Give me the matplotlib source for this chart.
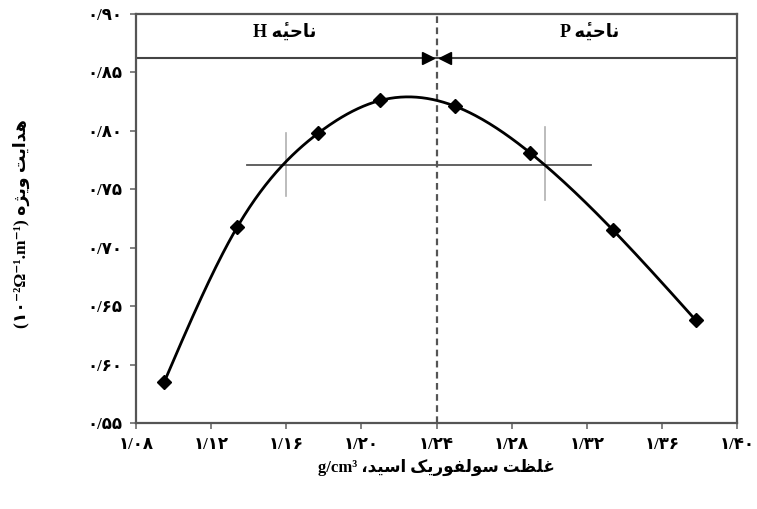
import numpy as np
import matplotlib
matplotlib.use("Agg")
import matplotlib.pyplot as plt

# sulfuric acid density (g/cm3) and specific conductivity
density = [1.095, 1.134, 1.177, 1.210, 1.250, 1.290, 1.334, 1.378]
conductivity = [0.585, 0.718, 0.798, 0.826, 0.821, 0.781, 0.715, 0.638]

x_ticks = [1.08, 1.12, 1.16, 1.20, 1.24, 1.28, 1.32, 1.36, 1.40]
x_tick_labels = ["۱/۰۸", "۱/۱۲", "۱/۱۶", "۱/۲۰", "۱/۲۴", "۱/۲۸", "۱/۳۲", "۱/۳۶", "۱/۴۰"]
y_ticks = [0.55, 0.60, 0.65, 0.70, 0.75, 0.80, 0.85, 0.90]
y_tick_labels = ["۰/۵۵", "۰/۶۰", "۰/۶۵", "۰/۷۰", "۰/۷۵", "۰/۸۰", "۰/۸۵", "۰/۹۰"]

boundary = 1.24
band_y = 0.862
level_y = 0.771
level_x = [1.139, 1.322]
left_mark = [1.16, 0.744, 0.798]
right_mark = [1.298, 0.741, 0.803]

# presentation forms: isolated, final, initial, medial (None = non-joining)
FORMS = {
    "ا": ("\uFE8D", "\uFE8E", None, None),
    "ت": ("\uFE95", "\uFE96", "\uFE97", "\uFE98"),
    "ح": ("\uFEA1", "\uFEA2", "\uFEA3", "\uFEA4"),
    "د": ("\uFEA9", "\uFEAA", None, None),
    "ر": ("\uFEAD", "\uFEAE", None, None),
    "ژ": ("\uFB8A", "\uFB8B", None, None),
    "س": ("\uFEB1", "\uFEB2", "\uFEB3", "\uFEB4"),
    "ظ": ("\uFEC5", "\uFEC6", "\uFEC7", "\uFEC8"),
    "غ": ("\uFECD", "\uFECE", "\uFECF", "\uFED0"),
    "ف": ("\uFED1", "\uFED2", "\uFED3", "\uFED4"),
    "ک": ("\uFB8E", "\uFB8F", "\uFB90", "\uFB91"),
    "ل": ("\uFEDD", "\uFEDE", "\uFEDF", "\uFEE0"),
    "ن": ("\uFEE5", "\uFEE6", "\uFEE7", "\uFEE8"),
    "ه": ("\uFEE9", "\uFEEA", "\uFEEB", "\uFEEC"),
    "و": ("\uFEED", "\uFEEE", None, None),
    "ی": ("\uFBFC", "\uFBFD", "\uFBFE", "\uFBFF"),
}


def joins_next(ch):
    return ch in FORMS and FORMS[ch][2] is not None


def farsi(text):
    """Shape Persian letters and return them in visual (left-to-right) order."""
    out = []
    for i, ch in enumerate(text):
        if ch not in FORMS:
            out.append(ch)
            continue
        prev = text[i - 1] if i > 0 else ""
        nxt = text[i + 1] if i + 1 < len(text) else ""
        to_prev = joins_next(prev)
        to_next = joins_next(ch) and nxt in FORMS
        iso, fin, ini, med = FORMS[ch]
        if to_prev and to_next:
            out.append(med)
        elif to_prev:
            out.append(fin)
        elif to_next:
            out.append(ini)
        else:
            out.append(iso)
    return "".join(reversed(out))


def natural_spline(x, y, xs):
    x = np.asarray(x, float)
    y = np.asarray(y, float)
    n = len(x)
    h = np.diff(x)
    A = np.zeros((n, n))
    b = np.zeros(n)
    A[0, 0] = A[-1, -1] = 1
    for i in range(1, n - 1):
        A[i, i - 1] = h[i - 1]
        A[i, i] = 2 * (h[i - 1] + h[i])
        A[i, i + 1] = h[i]
        b[i] = 3 * ((y[i + 1] - y[i]) / h[i] - (y[i] - y[i - 1]) / h[i - 1])
    c = np.linalg.solve(A, b)
    bb = (y[1:] - y[:-1]) / h - h * (2 * c[:-1] + c[1:]) / 3
    d = (c[1:] - c[:-1]) / (3 * h)
    k = np.clip(np.searchsorted(x, xs) - 1, 0, n - 2)
    t = xs - x[k]
    return y[k] + bb[k] * t + c[k] * t ** 2 + d[k] * t ** 3


FONT = ["Liberation Serif", "DejaVu Sans"]
plt.rcParams["font.family"] = FONT
plt.rcParams["font.weight"] = "bold"

fig = plt.figure(figsize=(7.57, 5.09), dpi=100)
ax = fig.add_axes([0.1797, 0.169, 0.7939, 0.8035])

xs = np.linspace(density[0], density[-1], 300)
ax.plot(xs, natural_spline(density, conductivity, xs), color="black", lw=2, zorder=4)
ax.plot(density, conductivity, "D", color="black", ms=7, zorder=5)

ax.axvline(boundary, color="#555555", lw=1.6, ls=(0, (3, 2)), zorder=2)
ax.axhline(band_y, color="#444444", lw=1.5, zorder=2)
ax.plot(level_x, [level_y, level_y], color="#555555", lw=1.3, zorder=2)
for mx, y0, y1 in (left_mark, right_mark):
    ax.plot([mx, mx], [y0, y1], color="#b0b0b0", lw=1.2, zorder=1)

ax.plot([boundary - 0.0045], [band_y], ">", color="black", ms=8, zorder=6)
ax.plot([boundary + 0.0045], [band_y], "<", color="black", ms=8, zorder=6)

# "ناحیهٔ": final heh followed by a combining hamza above
shaped = farsi("ناحیه")
region = shaped[0] + "\u0654" + shaped[1:]
ax.text(1.159, 0.884, "H " + region, ha="center", va="center", fontsize=13,
        fontweight="bold", family=FONT)
ax.text(1.3215, 0.884, "P " + region, ha="center", va="center", fontsize=13,
        fontweight="bold", family=FONT)

ax.set_xlim(1.08, 1.40)
ax.set_ylim(0.55, 0.90)
ax.set_xticks(x_ticks)
ax.set_xticklabels(x_tick_labels, fontsize=12, fontweight="bold")
ax.set_yticks(y_ticks)
ax.set_yticklabels(y_tick_labels, fontsize=12, fontweight="bold")
ax.tick_params(direction="out", length=4, width=1.3, color="#777777", pad=6)
for s in ax.spines.values():
    s.set_color("#555555")
    s.set_linewidth(1.6)

fig.text(0.577, 0.082, "g/cm³ " + "،" + farsi("غلظت سولفوریک اسید"),
         ha="center", va="center", fontsize=12, fontweight="bold", family=FONT)
fig.text(0.028, 0.56, "(۱۰⁻²Ω⁻¹.m⁻¹) " + farsi("هدایت ویژه"), rotation=90,
         ha="center", va="center", fontsize=12.5, fontweight="bold", family=FONT)

fig.savefig("out.png", dpi=100)
